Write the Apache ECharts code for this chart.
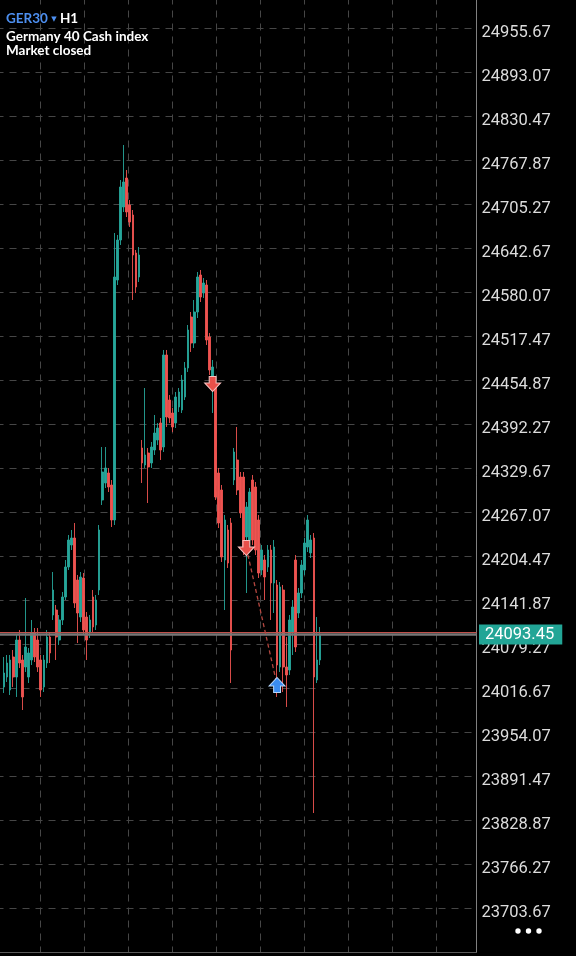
<!DOCTYPE html>
<html><head><meta charset="utf-8">
<script src="https://cdn.jsdelivr.net/npm/echarts@6/dist/echarts.min.js"></script>
<style>html,body{margin:0;padding:0;background:#000;}#c{width:576px;height:956px;}</style>
</head><body><div id="c"></div>
<script>
// GER30 H1 candles
const opens = [24018.81,24033.03,24014.54,24061.49,24033.03,24085.67,24057.22,24047.26,24033.03,24057.22,
24095.62,24085.67,24057.22,24018.81,24052.95,24089.94,24121.24,24128.35,24085.67,24114.13,
24146.85,24189.54,24220.83,24230.79,24171.03,24118.39,24173.88,24118.39,24095.62,24146.85,
24107.01,24156.81,24284.85,24309.04,24323.26,24306.19,24256.40,24597.85,24654.76,24701.71,
24742.97,24704.56,24690.33,24636.27,24602.12,24358.84,24334.65,24351.73,24337.50,24355.99,
24370.22,24394.41,24360.25,24491.15,24427.13,24408.63,24394.41,24417.17,24412.90,24431.40,
24472.66,24545.21,24508.22,24552.33,24604.97,24579.36,24590.74,24516.76,24441.36,24445.63,
24323.26,24299.08,24199.49,24242.17,24252.13,24313.30,24341.77,24317.57,24317.57,24232.21,
24227.94,24313.30,24303.35,24256.40,24185.26,24199.49,24189.54,24213.71,24166.77,24163.92,
24047.26,24156.81,24047.26,24042.99,24095.62,24199.49,24124.08,24152.54,24185.26,24217.98,
24209.45,24230.79,24028.76,24057.22];
const closes = [24038.72,24052.95,24057.22,24033.03,24085.67,24052.95,24004.58,24075.71,24067.18,24095.62,
24061.49,24047.26,24014.54,24057.22,24089.94,24067.18,24156.81,24089.94,24114.13,24146.85,
24189.54,24227.94,24230.79,24138.31,24124.08,24175.30,24099.90,24085.67,24114.13,24104.17,
24142.58,24242.17,24324.69,24330.38,24303.35,24256.40,24602.12,24654.76,24730.17,24737.28,
24694.60,24680.37,24633.42,24587.90,24633.42,24337.50,24348.88,24331.81,24360.25,24380.17,
24387.29,24355.99,24491.15,24402.94,24401.52,24388.72,24431.40,24438.51,24455.58,24472.66,
24526.72,24508.22,24552.33,24602.12,24573.67,24593.59,24512.49,24469.81,24474.09,24289.12,
24252.13,24203.76,24256.40,24195.22,24071.44,24353.14,24299.08,24266.35,24213.71,24274.89,
24296.23,24227.94,24213.71,24180.99,24213.71,24175.30,24213.71,24166.77,24217.98,24050.10,
24161.08,24047.26,24035.88,24114.13,24132.62,24075.71,24152.54,24192.37,24223.67,24256.40,
24227.94,24033.03,24057.22,24093.45];
const lows = [24010.27,24025.92,24007.42,24018.81,24004.58,24045.84,23986.08,24040.15,24024.50,24050.10,
24054.37,24040.15,24004.58,24011.69,24045.84,24052.95,24114.13,24057.22,24078.56,24107.01,
24142.58,24185.26,24213.71,24131.20,24081.40,24111.28,24092.79,24057.22,24088.52,24097.05,
24099.90,24149.69,24277.74,24301.92,24296.23,24246.44,24249.28,24590.74,24647.65,24694.60,
24687.48,24673.26,24569.40,24579.36,24595.01,24309.04,24330.38,24280.58,24330.38,24348.88,
24363.11,24341.77,24353.15,24388.72,24394.41,24381.60,24387.29,24410.06,24408.63,24427.13,
24466.97,24495.42,24501.11,24543.79,24566.55,24572.25,24505.38,24462.70,24408.63,24284.85,
24245.01,24196.64,24128.35,24188.11,24024.50,24306.19,24291.96,24259.24,24206.60,24152.54,
24220.83,24220.83,24206.60,24173.88,24178.15,24142.58,24182.42,24114.13,24124.08,24004.58,
24040.15,24011.69,23990.35,24035.88,24064.33,24068.60,24116.97,24145.43,24178.15,24210.87,
24202.33,23839.54,24024.50,24050.10];
const highs = [24061.49,24064.33,24064.33,24071.44,24092.79,24099.90,24064.33,24145.43,24074.29,24114.13,
24102.74,24102.74,24064.33,24064.33,24099.90,24095.62,24182.42,24135.47,24121.24,24153.96,
24199.49,24235.06,24242.17,24252.13,24178.15,24182.42,24180.99,24125.51,24121.24,24156.81,
24149.69,24249.28,24360.25,24360.25,24330.38,24313.30,24664.72,24661.88,24740.12,24789.92,
24754.35,24711.67,24697.44,24640.53,24644.80,24370.22,24444.20,24358.84,24367.38,24405.79,
24394.41,24401.52,24498.27,24498.27,24434.24,24415.75,24438.51,24444.20,24462.70,24481.19,
24533.83,24552.33,24569.40,24609.24,24612.08,24600.70,24597.85,24522.44,24484.04,24452.74,
24330.38,24306.19,24263.51,24249.28,24259.24,24358.84,24388.72,24324.69,24324.69,24282.00,
24301.92,24320.42,24310.46,24263.51,24220.83,24206.60,24220.83,24220.83,24227.94,24171.03,
24168.19,24163.92,24089.94,24121.24,24142.58,24206.60,24159.65,24199.49,24230.79,24263.51,
24235.06,24237.89,24118.39,24104.17];

// price axis ticks
const priceTickStart = 23641.07;
const priceTickStep = 62.6;
const priceTickEnd = 25018.27;

// trades
const tradeBars = [68, 79, 89];
const tradePrices = [24449.89, 24216.56, 24021.65];
const tradeSides = ['sell', 'sell', 'buy'];

const bidPrice = 24093.45;
const askPrice = 24096.30;

const symbolName = 'GER30';
const timeframe = 'H1';
const description = 'Germany 40 Cash index';
const status = 'Market closed';

const UP = '#26a69a', DOWN = '#ef5350';
const candles = opens.map((o, i) => [i, o, closes[i], lows[i], highs[i]]);

const downArrow = 'path://M4,0 L10,0 L10,6 L14,6 L7,14 L0,6 L4,6 Z';
const upArrow = 'path://M7,0 L14,8 L10,8 L10,14 L4,14 L4,8 L0,8 Z';

const markPoints = tradeBars.map((b, i) => ({
  coord: [b, tradePrices[i]],
  symbol: tradeSides[i] === 'sell' ? downArrow : upArrow,
  symbolSize: [16, 15],
  itemStyle: tradeSides[i] === 'sell'
    ? { color: '#e8504a', borderColor: '#f6c2c0', borderWidth: 1 }
    : { color: '#3a8cf0', borderColor: '#b5d5fa', borderWidth: 1 },
  label: { show: false }
}));

const chart = echarts.init(document.getElementById('c'), null, { renderer: 'canvas' });
chart.setOption({
  backgroundColor: '#000',
  animation: false,
  grid: { left: -3.5, right: 99.5, top: -15.5, bottom: 3.5, containLabel: false, outerBoundsMode: 'none' },
  xAxis: {
    type: 'value',
    min: -2.4446, max: 154.0, interval: 14.3416,
    axisLabel: { show: false },
    axisTick: { show: false },
    axisLine: { show: true, onZero: false, lineStyle: { color: '#5a5a5a', width: 1 } },
    splitLine: { show: true, lineStyle: { color: '#464646', type: [7, 6], width: 1 } }
  },
  yAxis: {
    type: 'value',
    position: 'right',
    min: priceTickStart, max: priceTickEnd, interval: priceTickStep,
    axisLine: { show: true, onZero: false, lineStyle: { color: '#808080', width: 1 } },
    axisTick: { show: false },
    splitLine: { show: true, lineStyle: { color: '#464646', type: [7, 6], width: 1 } },
    axisLabel: {
      show: true, margin: 5, color: '#dcdcdc', fontSize: 16.5, fontFamily: 'Roboto',
      verticalAlign: 'top', lineHeight: 8,
      showMinLabel: false, showMaxLabel: false,
      formatter: v => v.toFixed(2)
    }
  },
  series: [{
    type: 'candlestick',
    data: candles,
    barWidth: 2.2,
    itemStyle: { color: UP, color0: DOWN, borderColor: UP, borderColor0: DOWN, borderWidth: 0.9 },
    markPoint: { data: markPoints, z: 10, animation: false },
    markLine: {
      symbol: ['none', 'none'],
      animation: false,
      silent: true,
      data: [
        { yAxis: askPrice, lineStyle: { color: '#c0504b', width: 1, type: 'solid' }, label: { show: false } },
        { yAxis: bidPrice, lineStyle: { color: '#767676', width: 2.5, type: 'solid' },
          label: { show: true, position: 'end', distance: 2.5, formatter: () => bidPrice.toFixed(2),
            backgroundColor: '#22a596', color: '#ffffff', fontSize: 16.5, fontFamily: 'Roboto',
            padding: [3, 8, 0, 6] } },
        [ { coord: [tradeBars[1], tradePrices[1]], lineStyle: { color: '#b4463f', width: 1.3, type: [4, 3] }, label: { show: false } },
          { coord: [tradeBars[2], tradePrices[2]] } ]
      ]
    }
  }],
  graphic: [
    { type: 'text', left: 6, top: 12, z: 100, style: {
        text: '{a|' + symbolName + '} {b|▼} {c|' + timeframe + '}',
        rich: {
          a: { fill: '#4d8ff0', fontSize: 13.5, fontFamily: 'Lato', fontWeight: 'bold' },
          b: { fill: '#4d8ff0', fontSize: 7, fontFamily: 'DejaVu Sans' },
          c: { fill: '#ffffff', fontSize: 13.5, fontFamily: 'Lato', fontWeight: 'bold' }
        } } },
    { type: 'text', left: 6, top: 30, z: 100, style: { text: description, fill: '#ffffff', fontSize: 13.5, fontFamily: 'Lato', fontWeight: 'bold' } },
    { type: 'text', left: 6, top: 43.5, z: 100, style: { text: status, fill: '#ffffff', fontSize: 13.5, fontFamily: 'Lato', fontWeight: 'bold' } },
    { type: 'circle', shape: { cx: 518, cy: 931, r: 2.7 }, style: { fill: '#ffffff' }, z: 100 },
    { type: 'circle', shape: { cx: 528.5, cy: 931, r: 2.7 }, style: { fill: '#ffffff' }, z: 100 },
    { type: 'circle', shape: { cx: 539, cy: 931, r: 2.7 }, style: { fill: '#ffffff' }, z: 100 }
  ]
});
</script>
</body></html>
